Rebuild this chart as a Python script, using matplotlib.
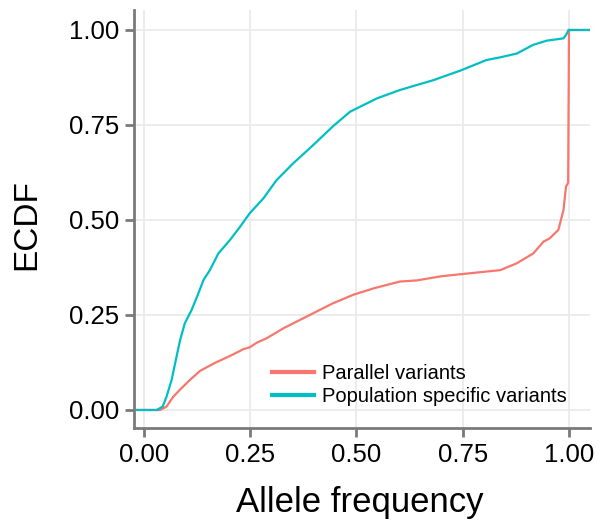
import matplotlib
matplotlib.use("Agg")
import matplotlib.pyplot as plt
import numpy as np

plt.rcParams['font.family'] = ['Liberation Sans', 'DejaVu Sans']

# Values
parallel_x = [0.038, 0.053, 0.069, 0.085, 0.108, 0.132, 0.167, 0.202, 0.234, 0.249,
              0.265, 0.289, 0.328, 0.367, 0.406, 0.445, 0.492, 0.540, 0.602, 0.642,
              0.700, 0.751, 0.838, 0.877, 0.916, 0.940, 0.955, 0.975, 0.987, 0.993,
              0.998, 1.000]
parallel_y = [0.000, 0.009, 0.035, 0.054, 0.079, 0.103, 0.124, 0.142, 0.160, 0.165,
              0.177, 0.189, 0.215, 0.237, 0.259, 0.281, 0.303, 0.320, 0.338, 0.341,
              0.352, 0.358, 0.368, 0.386, 0.412, 0.443, 0.452, 0.474, 0.526, 0.588,
              0.598, 1.000]

popspec_x = [0.030, 0.044, 0.053, 0.065, 0.075, 0.085, 0.096, 0.112, 0.128, 0.140,
             0.155, 0.175, 0.202, 0.226, 0.249, 0.281, 0.312, 0.351, 0.398, 0.445,
             0.485, 0.548, 0.602, 0.681, 0.744, 0.806, 0.838, 0.877, 0.916, 0.948,
             0.987, 0.993, 0.999]
popspec_y = [0.000, 0.009, 0.035, 0.079, 0.132, 0.184, 0.228, 0.263, 0.307, 0.342,
             0.368, 0.412, 0.447, 0.482, 0.518, 0.557, 0.605, 0.649, 0.697, 0.747,
             0.785, 0.820, 0.842, 0.868, 0.893, 0.921, 0.928, 0.938, 0.961, 0.972,
             0.978, 0.987, 1.000]

series_names = ["Parallel variants", "Population specific variants"]
series_colors = ["#F8766D", "#00BFC4"]
ticks = [0.00, 0.25, 0.50, 0.75, 1.00]
tick_labels = ["0.00", "0.25", "0.50", "0.75", "1.00"]

W, H = 598, 522
fig = plt.figure(figsize=(W / 100, H / 100), dpi=100)
ax = fig.add_axes([134 / W, 1 - 428 / H, (590 - 134) / W, (428 - 10) / H])

xlim = (-0.0235, 1.0494)
ylim = (-0.0474, 1.0526)
ax.set_xlim(*xlim)
ax.set_ylim(*ylim)

for xs, ys, name, col in [(parallel_x, parallel_y, series_names[0], series_colors[0]),
                          (popspec_x, popspec_y, series_names[1], series_colors[1])]:
    px = [xlim[0]] + list(xs) + [xlim[1]]
    py = [0.0] + list(ys) + [1.0]
    ax.plot(px, py, color=col, lw=1.6, label=name, solid_joinstyle='miter')

ax.set_xticks(ticks)
ax.set_xticklabels(tick_labels)
ax.set_yticks(ticks)
ax.set_yticklabels(tick_labels)

ax.grid(True, color='#ebebeb', lw=1.3)
ax.set_axisbelow(True)
for s in ['top', 'right']:
    ax.spines[s].set_visible(False)
for s in ['left', 'bottom']:
    ax.spines[s].set_color('#7a7a7a')
    ax.spines[s].set_linewidth(2.0)
ax.tick_params(axis='both', colors='#7a7a7a', width=2.0, length=6.5,
               labelsize=18.5, labelcolor='black', pad=4)

fig.text(360 / W, 1 - 511.7 / H, "Allele frequency", ha='center', va='baseline',
         fontsize=25)
fig.text(27 / W, 1 - 225 / H, "ECDF", ha='center', va='center', rotation=90,
         fontsize=24)

leg = ax.legend(loc='upper left', bbox_to_anchor=(271.7 / W, 1 - 364 / H),
                bbox_transform=fig.transFigure, frameon=False, fontsize=14.5,
                handlelength=2.1, handletextpad=0.38, labelspacing=0.2,
                borderpad=0, borderaxespad=0)
for l in leg.get_lines():
    l.set_linewidth(3.0)

fig.savefig("out.png", dpi=100)
